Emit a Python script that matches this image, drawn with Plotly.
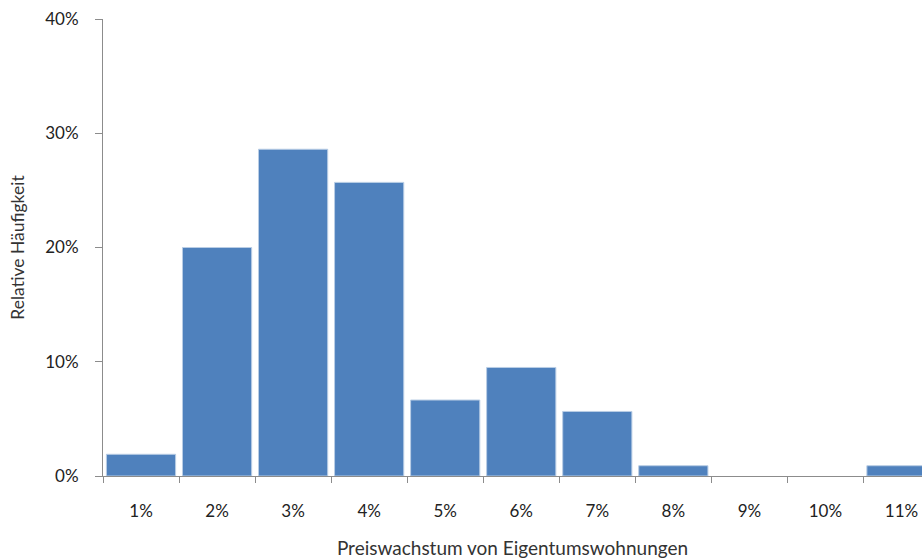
import plotly.graph_objects as go

categories = ["1%", "2%", "3%", "4%", "5%", "6%", "7%", "8%", "9%", "10%", "11%"]
values = [1.9, 20.0, 28.6, 25.7, 6.65, 9.5, 5.65, 0.9, 0.0, 0.0, 0.9]
y_ticks = [0, 10, 20, 30, 40]
y_tick_labels = ["0%", "10%", "20%", "30%", "40%"]

FONT = "Lato"
AX = "#8c8c8c"

fig = go.Figure(go.Bar(
    x=categories, y=values,
    marker=dict(color="#4F81BD",
                line=dict(color="#B9CDE5", width=[1 if v > 0 else 0 for v in values])),
))

fig.update_layout(
    width=922, height=559,
    margin=dict(l=103, r=0, t=19, b=83),
    plot_bgcolor="white", paper_bgcolor="white",
    bargap=0.09, showlegend=False,
    font=dict(family=FONT, color="#222222"),
)
fig.update_xaxes(
    type="category", range=[-0.5, 10.27],
    showline=True, linecolor=AX, linewidth=1,
    ticks="outside", ticklen=6, tickcolor=AX, tickson="boundaries",
    tickfont=dict(size=17, family=FONT, color="#222222"),
    ticklabelstandoff=20,
    showgrid=False, zeroline=False,
    title=dict(text="Preiswachstum von Eigentumswohnungen", font=dict(size=19, family=FONT, color="#333333"), standoff=22),
)
fig.update_yaxes(
    range=[0, 40], tickvals=y_ticks, ticktext=y_tick_labels,
    showline=True, linecolor=AX, linewidth=1,
    ticks="outside", ticklen=7, tickcolor=AX,
    tickfont=dict(size=17, family=FONT, color="#222222"),
    ticklabelstandoff=13,
    showgrid=False, zeroline=False,
    title=dict(text="Relative Häufigkeit", font=dict(size=17.5, family=FONT, color="#333333"), standoff=16),
)

fig.write_html("out.html")
